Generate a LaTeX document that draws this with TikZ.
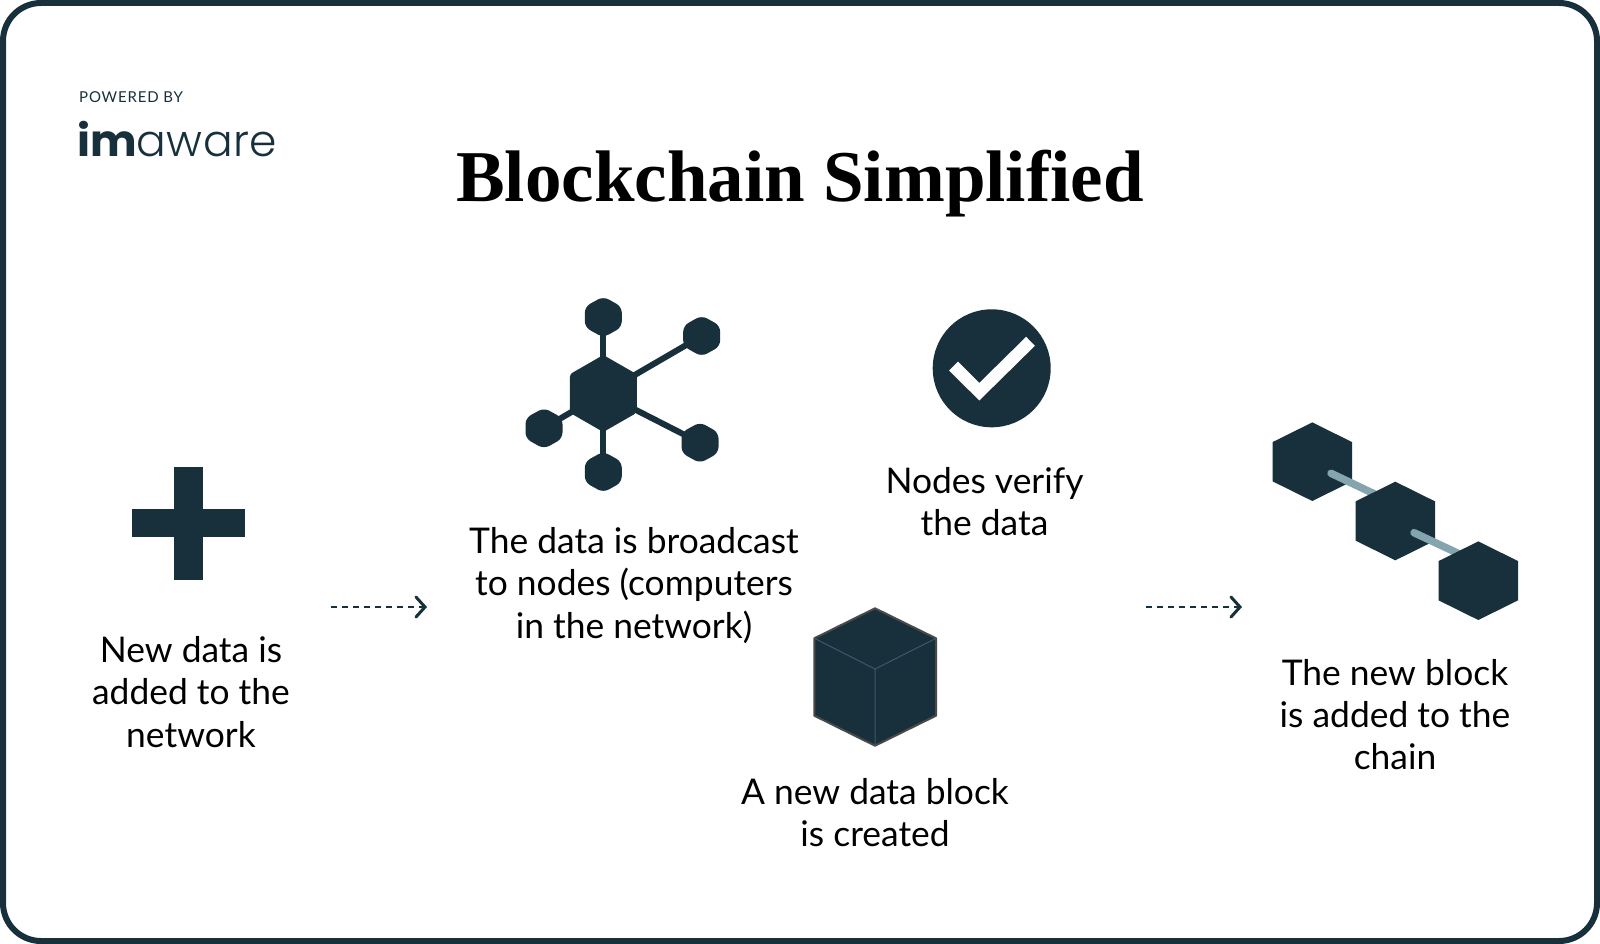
\documentclass[tikz,border=0pt]{standalone}
\usepackage{fontspec}
\setmainfont{Lato}
\newfontfamily\titlefont{Liberation Serif}
\newfontfamily\logolight{Poppins Light}
\newfontfamily\logobold{Poppins}
\definecolor{navy}{HTML}{18303C}
\definecolor{linkc}{HTML}{84A4AE}
\definecolor{cubeedge}{HTML}{4A4A4A}
\definecolor{cubeline}{HTML}{3A5A68}
\newcommand{\hexpath}[4]{(#1,#2-#3) -- (#1+#4,#2-#3/2) -- (#1+#4,#2+#3/2) -- (#1,#2+#3) -- (#1-#4,#2+#3/2) -- (#1-#4,#2-#3/2) -- cycle}
\tikzset{
  x=1pt,y=-1pt,
  body/.style={align=center,font=\fontsize{35.4}{42.3}\selectfont,text=black,inner sep=0pt},
  softhex/.style={fill=navy,rounded corners=6pt},
  bighex/.style={fill=navy,rounded corners=3pt},
  spoke/.style={draw=navy,line width=6pt},
  flow/.style={draw=navy,line width=2.5pt,dash pattern=on 6pt off 5pt},
  flowtip/.style={draw=navy,line width=3pt,line cap=round,line join=miter},
  chainlink/.style={draw=linkc,line width=7.5pt,line cap=round},
}
\begin{document}
\begin{tikzpicture}
\useasboundingbox (0,0) rectangle (1600,944);
\fill[white] (0,0) rectangle (1600,944);
\draw[navy,line width=6pt,rounded corners=38pt] (3,3) rectangle (1597,941);

\node[inner sep=0pt,anchor=base west,text=navy,font=\fontsize{15}{15}\selectfont\addfontfeature{LetterSpace=5.5}] (powered) at (79,103) {POWERED BY};
\node[inner sep=0pt,anchor=base west,text=navy,font=\fontsize{44}{44}\selectfont] (logo) at (77,157) {{\logobold\bfseries im}{\logolight\addfontfeature{LetterSpace=1} aware}};

\node[inner sep=0pt,font=\titlefont\bfseries\fontsize{73}{73}\selectfont,text=black] (title) at (800,184) {Blockchain Simplified};

% plus
\fill[navy] (132,509) rectangle (245,536.7);
\fill[navy] (174.3,467) rectangle (202.7,579.5);
\node[body] (t1) at (191,692) {New data is\\added to the\\network};

% arrow 1
\coordinate (a1s) at (331,607);
\coordinate (a1e) at (425,607);
\draw[flow] (a1s) -- (a1e);
\draw[flowtip] ([shift={(-9,-10)}]a1e) -- (a1e) -- ([shift={(-9,10)}]a1e);

% network
\draw[spoke] (603.3,393.3) -- (603.3,316);
\draw[spoke] (603.3,393.3) -- (701.7,336);
\draw[spoke] (603.3,393.3) -- (700,442.7);
\draw[spoke] (603.3,393.3) -- (543.7,428.3);
\draw[spoke] (603.3,393.3) -- (603.3,471.7);
\fill[bighex] \hexpath{603.3}{393.5}{38.5}{33.5};
\fill[softhex] \hexpath{603.3}{317}{20.5}{18.5};
\fill[softhex] \hexpath{701.7}{336}{20.5}{18.5};
\fill[softhex] \hexpath{700}{442.7}{20.5}{18.5};
\fill[softhex] \hexpath{544}{428.3}{20.5}{18.5};
\fill[softhex] \hexpath{603.3}{472}{20.5}{18.5};
\node[body] (t2) at (634,585.5) {The data is broadcast\\to nodes (computers\\in the network)};

% check
\fill[navy] (991.7,368.3) circle (59);
\draw[white,line width=12.5pt,line join=miter] (953.5,366) -- (979.3,391.7) -- (1030.5,341.3);
\node[body] (t3) at (984.5,501.5) {Nodes verify\\the data};

% cube
\fill[navy,draw=cubeedge,line width=2pt,line join=round] (875,608.3) -- (936,638.3) -- (936,715.7) -- (875,745.7) -- (814.3,715.7) -- (814.3,638.3) -- cycle;
\draw[cubeline,line width=1pt] (814.3,638.3) -- (875,669) -- (936,638.3) (875,669) -- (875,745.7);
\node[body] (t4) at (875,812.5) {A new data block\\is created};

% arrow 2
\coordinate (a2s) at (1146,607);
\coordinate (a2e) at (1240,607);
\draw[flow] (a2s) -- (a2e);
\draw[flowtip] ([shift={(-9,-10)}]a2e) -- (a2e) -- ([shift={(-9,10)}]a2e);

% chain
\fill[navy] \hexpath{1312.3}{461.7}{39.3}{39.7};
\draw[chainlink] (1331,473.3) -- (1385,499);
\fill[navy] \hexpath{1395.3}{521}{39.3}{39.7};
\draw[chainlink] (1414,532.7) -- (1468,558);
\fill[navy] \hexpath{1478.3}{580.7}{39.3}{39.7};
\node[body] (t5) at (1395,714.5) {The new block\\is added to the\\chain};
\end{tikzpicture}
\end{document}
